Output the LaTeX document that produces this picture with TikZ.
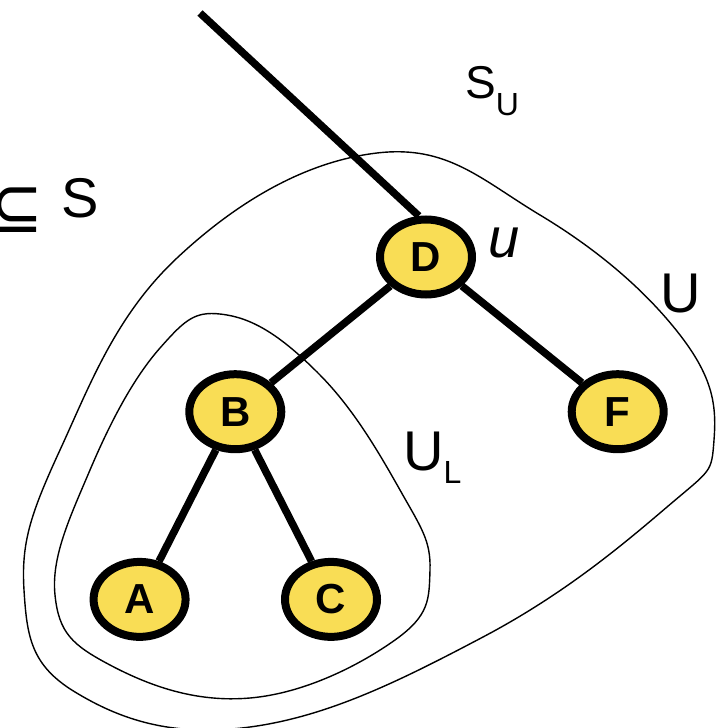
\documentclass[tikz,border=0pt]{standalone}
\usepackage{fontspec}
\setmainfont{Liberation Sans}
\newfontfamily\symbolfont{DejaVu Sans}
\usetikzlibrary{positioning,shapes.geometric}
\definecolor{TreeYellow}{HTML}{F9DD55}

\begin{document}
\begin{tikzpicture}[
  x=1pt, y=-1pt,
  vertex/.style={ellipse, draw=black, line width=8pt, fill=TreeYellow, minimum width=92pt, minimum height=75pt, inner sep=0pt, font=\fontsize{42}{42}\selectfont\bfseries},
  link/.style={line width=7.5pt, draw=black},
  region/.style={line width=1.4pt, draw=black},
  lab/.style={inner sep=0pt, font=\fontsize{56}{56}\selectfont},
  sublab/.style={inner sep=0pt, font=\fontsize{46}{46}\selectfont}
]
\useasboundingbox (0,0) rectangle (726,728);
\draw[region] plot[smooth cycle, tension=0.7] coordinates {(377,153) (540,215) (680,335) (714,440) (667,507) (483,637) (250,727) (75,692) (24,590) (60,450) (177,258)};
\draw[region] plot[smooth cycle, tension=0.7] coordinates {(227,315) (320,375) (400,490) (430,570) (395,640) (250,698) (110,665) (55,595) (90,470) (160,348)};
\node[vertex] (D) at (426,257) {D};
\node[vertex, below left=96pt and 120pt of D] (B) {B};
\node[vertex, below right=96pt and 121pt of D] (F) {F};
\node[vertex, below left=129pt and 25pt of B] (A) {A};
\node[vertex, below right=129pt and 25pt of B] (C) {C};
\coordinate (root) at (200,13);

\draw[link] (root) -- (D.100);
\draw[link] (D) -- (B);
\draw[link] (D) -- (F);
\draw[link] (B) -- (A);
\draw[link] (B) -- (C);

\node[lab, anchor=base west] (u) at ([xshift=12pt]D.east) {\itshape u};
\node[sublab, anchor=base west] (SU) at (465,98) {S\raisebox{-17pt}{\fontsize{32}{32}\selectfont U}};
\node[lab, anchor=base west] (U) at (660,312) {U};
\node[lab, anchor=base west] (UL) at (403,470) {U\raisebox{-13pt}{\fontsize{32}{32}\selectfont L}};
\node[lab, anchor=base east] (S) at (99,217) {\raisebox{-15pt}{\scalebox{1.1}[1.3]{\symbolfont ⊆}}\hspace{18pt}S};
\end{tikzpicture}
\end{document}
